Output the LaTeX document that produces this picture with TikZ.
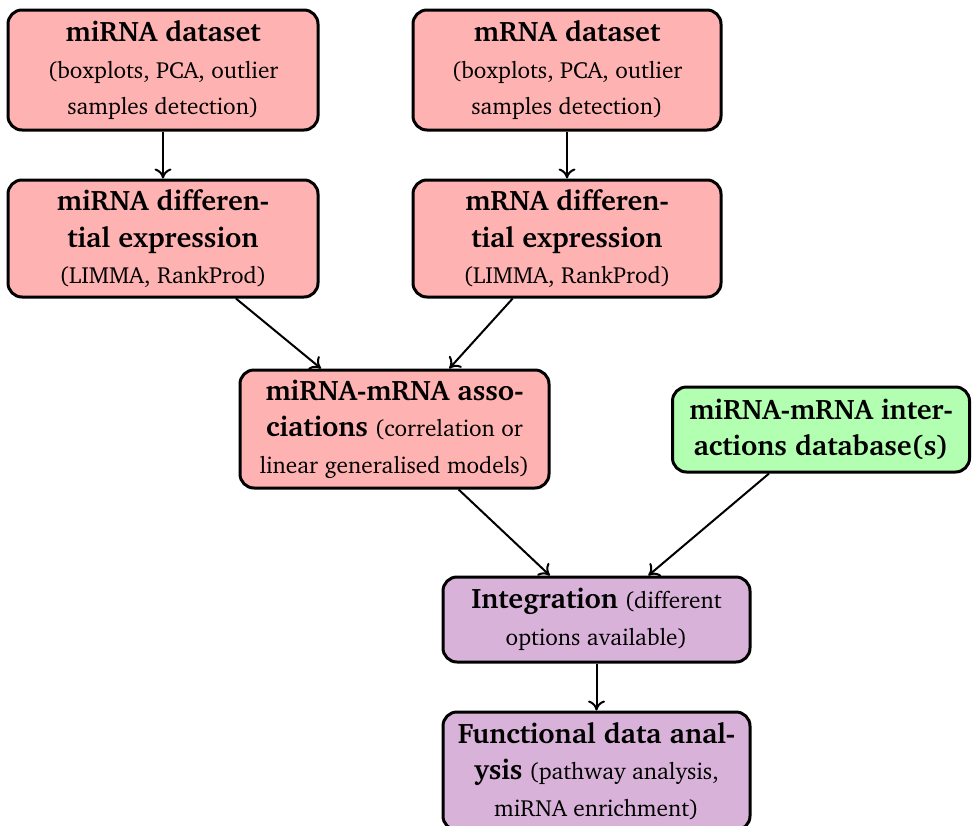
\documentclass[tikz,border=0pt]{standalone}
\usepackage[T1]{fontenc}
\usepackage{charter}
\usetikzlibrary{arrows.meta}
\newcommand\boxhead{\bfseries\fontsize{28.2}{36.5}\selectfont}
\begin{document}
\begin{tikzpicture}[x=1pt,y=1pt,
  stage/.style={draw=black, line width=3pt, rounded corners=14pt,
    align=center, inner sep=2pt, minimum width=310pt,
    font=\fontsize{23.3}{36.5}\selectfont},
  prep/.style={stage, fill=red!30, minimum height=120pt},
  db/.style={stage, fill=green!30, minimum width=297pt, minimum height=85pt},
  integ/.style={stage, fill=violet!30, minimum width=307pt},
  flow/.style={-{To[length=10pt,width=17pt]}, line width=2pt}]
\useasboundingbox (0,0) rectangle (972,-825);

\node[prep] (mirdata) at (163,-70) {{\boxhead miRNA dataset}\\(boxplots, PCA, outlier\\samples detection)};
\node[prep, minimum width=308pt] (mrdata) at (567,-70) {{\boxhead mRNA dataset}\\(boxplots, PCA, outlier\\samples detection)};

\node[prep, minimum height=117pt] (mirde) at (163,-238.5) {{\boxhead miRNA differen-}\\{\boxhead tial expression}\\(LIMMA, RankProd)};
\node[prep, minimum height=117pt, minimum width=308pt] (mrde) at (567,-238.5) {{\boxhead mRNA differen-}\\{\boxhead tial expression}\\(LIMMA, RankProd)};

\node[prep, minimum height=118pt, minimum width=309pt] (assoc) at (394.5,-429) {{\boxhead miRNA-mRNA asso-}\\{\boxhead ciations} (correlation or\\linear generalised models)};

\node[db] (inter) at (821,-429.5) {{\boxhead miRNA-mRNA inter-}\\{\boxhead actions database(s)}};

\node[integ, minimum height=85pt] (integ) at (596.5,-619.5) {{\boxhead Integration} (different\\options available)};

\node[integ, minimum height=118pt] (func) at (596.5,-771) {{\boxhead Functional data anal-}\\{\boxhead ysis} (pathway analysis,\\miRNA enrichment)};

\draw[flow] (mirdata) -- (mirde);
\draw[flow] (mrdata) -- (mrde);
\draw[flow] (mirde) -- (assoc);
\draw[flow] (mrde) -- (assoc);
\draw[flow] (assoc) -- (integ);
\draw[flow] (inter) -- (integ);
\draw[flow] (integ) -- (func);
\end{tikzpicture}
\end{document}
